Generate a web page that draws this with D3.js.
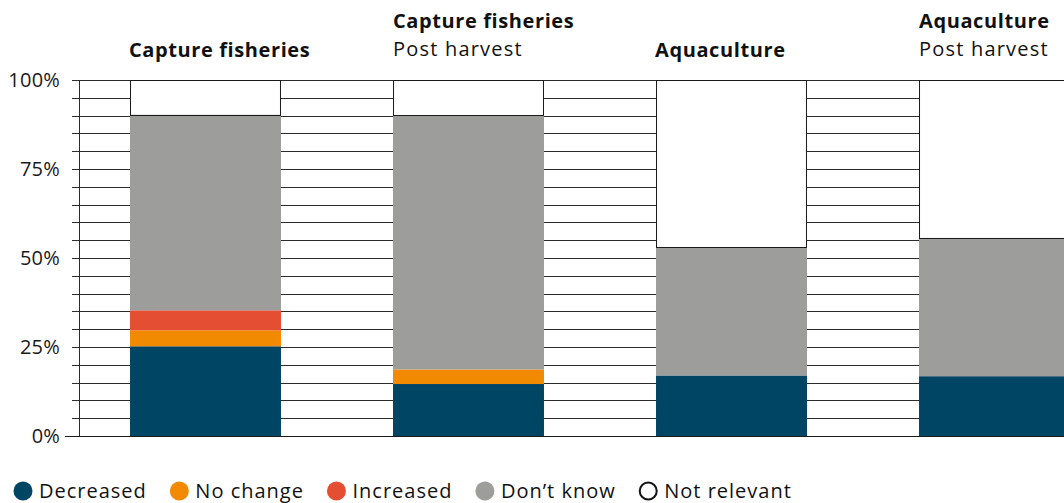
<!DOCTYPE html>
<html>
<head>
<meta charset="utf-8">
<script src="https://cdn.jsdelivr.net/npm/d3@7"></script>
<style>
  html, body { margin: 0; padding: 0; background: #fff; }
  svg { display: block; font-family: "Open Sans", "Noto Sans", sans-serif; }
</style>
</head>
<body>
<svg id="chart" width="1064" height="503"></svg>
<script>
// ---- data ----
const categories = ["Capture fisheries", "Capture fisheries – Post harvest", "Aquaculture", "Aquaculture – Post harvest"];
const titleMain = ["Capture fisheries", "Capture fisheries", "Aquaculture", "Aquaculture"];
const titleSub = ["", "Post harvest", "", "Post harvest"];
const seriesNames = ["Decreased", "No change", "Increased", "Don’t know", "Not relevant"];
const decreased = [25.2, 14.6, 17.0, 16.8];
const noChange = [4.5, 4.1, 0, 0];
const increased = [5.6, 0, 0, 0];
const dontKnow = [55.0, 71.5, 36.1, 38.9];
const notRelevant = [9.7, 9.8, 46.9, 44.3];
const yTicks = [0, 25, 50, 75, 100];
const yTickLabels = ["0%", "25%", "50%", "75%", "100%"];
const colors = ["#004564", "#F18A00", "#E44E33", "#9D9D9B", "#FFFFFF"];

// ---- build table ----
const seriesValues = [decreased, noChange, increased, dontKnow, notRelevant];
const table = categories.map((c, i) => {
  const row = { cat: c };
  seriesNames.forEach((s, j) => row[s] = seriesValues[j][i]);
  return row;
});

const svg = d3.select("#chart");
const W = 1064, H = 503;
const plotLeft = 79, plotTop = 80, plotBottom = 436;
const FS = 20;
const LS_REG = 1.2, LS_BOLD = 0.6, LS_LEG = 1.0;

const x = d3.scaleBand().domain(categories).range([plotLeft, 1121])
  .paddingInner(0.426).paddingOuter(0.194);
const y = d3.scaleLinear().domain([0, 100]).range([plotBottom, plotTop]);

// gridlines every 5%
const grid = svg.append("g");
grid.selectAll("line").data(d3.range(0, 101, 5)).join("line")
  .attr("x1", d => d === 0 ? 65 : 72)
  .attr("x2", W)
  .attr("y1", d => Math.round(y(d)) + 0.5)
  .attr("y2", d => Math.round(y(d)) + 0.5)
  .attr("stroke", "#2a2a2a")
  .attr("stroke-width", 1);

// y axis line
svg.append("line")
  .attr("x1", plotLeft + 0.5).attr("x2", plotLeft + 0.5)
  .attr("y1", Math.round(y(100)) + 0.5).attr("y2", Math.round(y(0)) + 0.5)
  .attr("stroke", "#2a2a2a");

// y tick labels
svg.append("g").selectAll("text").data(yTicks).join("text")
  .attr("x", 60)
  .attr("y", d => y(d))
  .attr("dy", "0.36em")
  .attr("text-anchor", "end")
  .attr("font-size", FS)
  .attr("letter-spacing", 0.2)
  .attr("fill", "#1a1a1a")
  .text((d, i) => yTickLabels[i]);

// stacked bars
const stack = d3.stack().keys(seriesNames);
const stacked = stack(table);
const barG = svg.append("g");
stacked.forEach((layer, j) => {
  barG.append("g").selectAll("rect").data(layer.filter(d => d[1] - d[0] > 0)).join("rect")
    .attr("x", d => x(d.data.cat))
    .attr("width", x.bandwidth())
    .attr("y", d => y(d[1]))
    .attr("height", d => y(d[0]) - y(d[1]))
    .attr("fill", colors[j]);
});
// outline for "Not relevant"
const nr = stacked[4];
barG.append("g").selectAll("rect").data(nr).join("rect")
  .attr("x", d => x(d.data.cat) + 0.5)
  .attr("width", x.bandwidth() - 1)
  .attr("y", d => Math.round(y(d[1])) + 0.5)
  .attr("height", d => Math.round(y(d[0])) - Math.round(y(d[1])))
  .attr("fill", "none")
  .attr("stroke", "#1a1a1a")
  .attr("stroke-width", 1);

// baseline
svg.append("line")
  .attr("x1", 65).attr("x2", W)
  .attr("y1", Math.round(y(0)) + 0.5).attr("y2", Math.round(y(0)) + 0.5)
  .attr("stroke", "#1a1a1a").attr("stroke-width", 1.2);

// titles
const titles = svg.append("g");
categories.forEach((c, i) => {
  const x0 = x(c) - 1;
  if (titleSub[i]) {
    titles.append("text").attr("x", x0 + 1).attr("y", 28)
      .attr("font-size", FS).attr("font-weight", 700).attr("letter-spacing", LS_BOLD).attr("fill", "#111")
      .text(titleMain[i]);
    titles.append("text").attr("x", x0 + 1).attr("y", 56)
      .attr("font-size", FS).attr("font-weight", 400).attr("letter-spacing", LS_REG).attr("fill", "#111")
      .text(titleSub[i]);
  } else {
    titles.append("text").attr("x", x0).attr("y", 57)
      .attr("font-size", FS).attr("font-weight", 700).attr("letter-spacing", LS_BOLD).attr("fill", "#111")
      .text(titleMain[i]);
  }
});

// legend
const legend = svg.append("g");
let lx = 13.5;
const ly = 491;
seriesNames.forEach((s, j) => {
  const r = 9.5;
  legend.append("circle")
    .attr("cx", lx + r).attr("cy", ly).attr("r", j === 4 ? r - 1 : r)
    .attr("fill", colors[j])
    .attr("stroke", j === 4 ? "#111" : "none")
    .attr("stroke-width", 2);
  const t = legend.append("text")
    .attr("x", lx + r + 16).attr("y", ly).attr("dy", "0.36em")
    .attr("font-size", FS).attr("letter-spacing", LS_LEG).attr("fill", "#111")
    .text(s);
  const w = t.node().getComputedTextLength();
  lx = lx + r + 16 + w + 23;
});
</script>
</body>
</html>
